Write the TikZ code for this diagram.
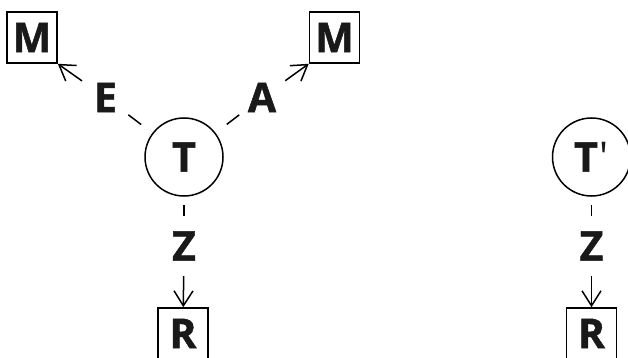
\documentclass[tikz,border=0pt]{standalone}
\usepackage{fontspec}
\setmainfont[BoldFeatures={FakeBold=1.2}]{Open Sans}
\usetikzlibrary{arrows.meta}
\begin{document}
\begin{tikzpicture}[x=1pt,y=-1pt,
  every node/.style={font=\fontsize{41}{41}\selectfont\bfseries, inner sep=0pt, text=black!90},
  boxnode/.style={draw, line width=1.6pt, minimum width=50pt, minimum height=51pt},
  statenode/.style={draw, circle, line width=1.5pt, minimum size=78pt},
  labelnode/.style={circle, minimum size=57pt},
  link/.style={line width=1.5pt},
  arrowlink/.style={link, -{Straight Barb[length=15pt, width=19pt, line width=1.5pt]}}
]
\useasboundingbox (0,0) rectangle (628,358);

% left system
\node[statenode] (T) at (184,157) {T};
\node[boxnode] (ML) at (32,37.5) {M};
\node[boxnode] (MR) at (334.5,37.5) {M};
\node[boxnode] (R) at (183,333.5) {R};
\node[labelnode] (E) at (105.5,97.5) {E};
\node[labelnode] (A) at (262,97.5) {A};
\node[labelnode, minimum size=60pt] (Z) at (184,246) {Z};

\draw[link, shorten <=14pt] (T) -- (E);
\draw[arrowlink] (E) -- (ML.south east);
\draw[link, shorten <=14pt] (T) -- (A);
\draw[arrowlink] (A) -- (MR.south west);
\draw[link, shorten <=8pt] (T) -- (Z);
\draw[arrowlink] (Z) -- (R);

% right system
\node[statenode] (T2) at (591.5,157) {T\kern2pt{\mdseries\textquotesingle}};
\node[labelnode, minimum size=60pt] (Z2) at (591.5,246) {Z};
\node[boxnode] (R2) at (591.5,333.5) {R};

\draw[link, shorten <=8pt] (T2) -- (Z2);
\draw[arrowlink] (Z2) -- (R2);
\end{tikzpicture}
\end{document}
